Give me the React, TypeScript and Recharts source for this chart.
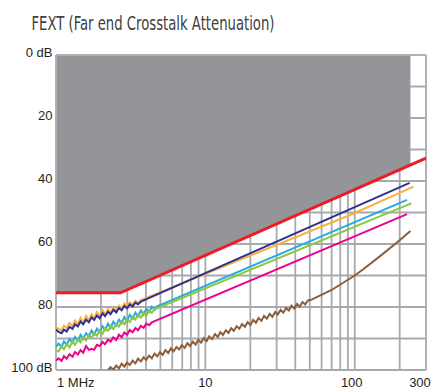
import React from 'react';
import { ComposedChart, Line, Area, XAxis, YAxis, CartesianGrid, ReferenceLine } from 'recharts';

const TITLE = 'FEXT (Far end Crosstalk Attenuation)';

// measurement sample frequencies (MHz) for the noisy low-frequency part
const sampleFreqs = [
  1.0, 1.04, 1.09, 1.13, 1.18, 1.23, 1.29, 1.34, 1.4, 1.46, 1.52, 1.59, 1.66, 1.73, 1.8, 1.88,
  1.96, 2.05, 2.13, 2.23, 2.32, 2.42, 2.53, 2.64, 2.75, 2.87, 2.99, 3.12, 3.26, 3.4, 3.54, 3.7,
  3.86, 4.02, 4.2, 4.38, 4.57, 4.76, 4.97, 5.18, 5.4, 5.64, 5.88, 6.13, 6.4, 6.67, 6.96, 7.26,
  7.58, 7.9, 8.24, 8.6, 8.97, 9.36, 9.76, 10.2, 10.6, 11.1, 11.6, 12.1, 12.6, 13.1, 13.7, 14.3,
  14.9, 15.5, 16.2, 16.9, 17.6, 18.4, 19.2, 20.0, 20.9, 21.8, 22.7, 23.7, 24.7, 25.8, 26.9, 28.1,
  29.3, 30.5, 31.9, 33.2, 34.7, 36.2, 37.7, 39.4, 41.1, 42.8, 44.7, 46.6, 48.6, 50.7,
];

// limit line (red) and the grey forbidden zone
const limitPoints: [number, number][] = [[1, 75.5], [2.7, 75.5], [300, 32.7]];
const zonePoints: [number, number][] = [[1, 75.5], [2.7, 75.5], [236, 34.9]];

// navy
const navyLow = [87.1, 87.9, 88.3, 87.2, 87.8, 86.3, 86.9, 85.5, 86.2, 84.6, 85.5, 84.0, 84.9, 83.3, 84.1, 82.7,
  83.6, 82.0, 82.9, 81.5, 82.3, 80.9, 81.7, 80.3, 81.0, 79.7, 80.4, 79.2, 79.8, 78.6, 79.1, 78.3];
const navyHigh: [number, number][] = [[233, 40.6]];

// orange
const orangeLow = [86.3, 86.9, 87.4, 85.9, 86.8, 85.0, 86.1, 84.3, 85.5, 83.4, 84.9, 82.8, 84.2, 82.3, 83.5, 81.6,
  82.9, 81.0, 82.4, 80.6, 81.8, 80.2, 81.2, 79.6, 80.4, 78.9, 79.9, 78.5, 79.3, 78.0, 78.7, 77.8];
const orangeHigh: [number, number][] = [[94, 50.7], [248, 41.8]];

// cyan
const cyanLow = [92.6, 91.6, 92.7, 90.9, 92.0, 90.2, 91.3, 89.5, 90.7, 88.8, 90.1, 88.3, 89.3, 87.5, 88.7, 86.9,
  88.0, 86.1, 87.3, 85.3, 86.6, 84.7, 85.9, 84.0, 85.1, 83.2, 84.5, 82.5, 83.7, 81.8, 83.0, 81.1,
  82.4, 80.5, 81.6, 79.9, 80.9, 79.8];
const cyanHigh: [number, number][] = [[224, 46.0]];

// green
const greenLow = [93.7, 94.1, 92.5, 93.4, 91.7, 92.8, 91.0, 92.0, 90.3, 91.2, 89.5, 90.6, 88.9, 89.8, 88.3, 89.1,
  87.4, 88.5, 86.7, 87.6, 86.0, 87.0, 85.3, 86.2, 84.6, 85.5, 83.9, 84.8, 83.1, 84.0, 82.5, 83.4,
  81.8, 82.7, 81.0, 81.9, 80.5, 80.4];
const greenHigh: [number, number][] = [[239, 47.1]];

// magenta
const magentaLow = [97.0, 96.3, 97.1, 95.6, 96.4, 95.0, 95.8, 94.3, 95.1, 93.7, 94.5, 92.4, 93.6, 93.3, 93.6, 92.0,
  92.4, 91.1, 91.8, 90.4, 91.0, 89.6, 90.5, 88.8, 89.6, 88.1, 88.8, 87.3, 88.0, 86.7, 87.4, 86.0,
  86.6, 85.3, 85.8, 84.9];
const magentaHigh: [number, number][] = [[224, 50.5]];

// brown (starts at 2.23 MHz = sample index 19)
const brownStart = 19;
const brownLow = [100.0, 99.1, 99.9, 98.6, 99.5, 98.0, 98.9, 97.6, 98.4, 97.0, 97.9, 96.4, 97.3, 96.0, 96.8, 95.4,
  96.3, 94.8, 95.7, 94.3, 95.2, 93.7, 94.6, 93.1, 94.1, 92.7, 93.5, 92.1, 93.0, 91.5, 92.4, 91.0,
  91.9, 90.4, 91.3, 89.9, 90.8, 89.3, 90.2, 88.6, 89.5, 88.0, 88.9, 87.4, 88.2, 86.7, 87.6, 86.1,
  86.9, 85.4, 86.3, 84.8, 85.7, 84.1, 85.0, 83.5, 84.4, 82.8, 83.7, 82.2, 83.1, 81.6, 82.4, 80.9,
  81.8, 80.3, 81.1, 79.6, 80.5, 79.0, 79.9, 78.4, 79.2, 77.9, 77.8];
const brownHigh: [number, number][] = [[70, 74.6], [100, 70.0], [114, 68.0], [150, 63.6], [200, 58.8], [236, 55.9]];

const xTicks = [1, 2, 3, 4, 5, 6, 7, 8, 9, 10, 20, 30, 40, 50, 60, 70, 80, 90, 100, 200, 300];
const xTickLabels = ['1 MHz', '', '', '', '', '', '', '', '', '10', '', '', '', '', '', '', '', '', '100', '', '300'];
const yTicks = [0, 10, 20, 30, 40, 50, 60, 70, 80, 90, 100];
const yTickLabels = ['0 dB', '', '20', '', '40', '', '60', '', '80', '', '100 dB'];

const build = (start: number, low: number[], high: [number, number][]) => [
  ...low.map((v, i) => ({ f: sampleFreqs[start + i], v })),
  ...high.map(([f, v]) => ({ f, v })),
];
const pairs = (p: [number, number][]) => p.map(([f, v]) => ({ f, v }));

const navyData = build(0, navyLow, navyHigh);
const orangeData = build(0, orangeLow, orangeHigh);
const cyanData = build(0, cyanLow, cyanHigh);
const greenData = build(0, greenLow, greenHigh);
const magentaData = build(0, magentaLow, magentaHigh);
const brownData = build(brownStart, brownLow, brownHigh);
const limitData = pairs(limitPoints);
const zoneData = pairs(zonePoints);

const FONT = "'Liberation Sans', Arial, sans-serif";

const XTick = (props: any) => {
  const { x, y, payload } = props;
  const label = xTickLabels[xTicks.indexOf(payload.value)];
  if (!label) return <g />;
  let anchor: 'start' | 'middle' | 'end' = 'middle';
  let dx = 0;
  if (payload.value === 1) { anchor = 'start'; dx = 1; }
  if (payload.value === 100) dx = -3;
  if (payload.value === 300) dx = -6;
  return (
    <text x={x + dx} y={y + 17.3} textAnchor={anchor} fontSize={13} fill="#231f20" fontFamily={FONT}>
      {label}
    </text>
  );
};

const YTick = (props: any) => {
  const { x, y, payload } = props;
  const label = yTickLabels[yTicks.indexOf(payload.value)];
  if (!label) return <g />;
  return (
    <text x={x} y={y + 2.3} textAnchor="end" fontSize={13} fill="#231f20" fontFamily={FONT}>
      {label}
    </text>
  );
};

export default function App() {
  return (
    <div style={{ position: 'absolute', left: 0, top: 0, width: 433, height: 392, background: '#fff' }}>
      <ComposedChart width={433} height={392} margin={{ top: 55, right: 7, bottom: 0, left: 6 }}>
        <CartesianGrid stroke="#a7a9ac" strokeWidth={1.8} />
        <XAxis
          xAxisId={0}
          type="number"
          dataKey="f"
          scale="log"
          domain={[1, 300]}
          allowDataOverflow
          ticks={xTicks}
          interval={0}
          axisLine={false}
          tickLine={false}
          tickSize={0}
          tickMargin={0}
          height={22}
          tick={<XTick />}
        />
        <YAxis
          yAxisId={0}
          type="number"
          dataKey="v"
          domain={[0, 100]}
          reversed
          allowDataOverflow
          ticks={yTicks}
          interval={0}
          axisLine={false}
          tickLine={false}
          tickSize={0}
          tickMargin={3.5}
          width={50}
          tick={<YTick />}
        />
        <Area data={zoneData} dataKey="v" baseValue={0} type="linear" fill="#939598" fillOpacity={1} stroke="none" isAnimationActive={false} />
        <ReferenceLine y={0} stroke="#b3b4b6" strokeWidth={1.5} />
        <ReferenceLine x={1} stroke="#b3b4b6" strokeWidth={1.5} />
        <Line data={orangeData} dataKey="v" type="linear" stroke="#fbb040" strokeWidth={2} dot={false} isAnimationActive={false} />
        <Line data={navyData} dataKey="v" type="linear" stroke="#2e3192" strokeWidth={2} dot={false} isAnimationActive={false} />
        <Line data={cyanData} dataKey="v" type="linear" stroke="#27aae1" strokeWidth={2} dot={false} isAnimationActive={false} />
        <Line data={greenData} dataKey="v" type="linear" stroke="#8dc63f" strokeWidth={2} dot={false} isAnimationActive={false} />
        <Line data={magentaData} dataKey="v" type="linear" stroke="#ec008c" strokeWidth={2} dot={false} isAnimationActive={false} />
        <Line data={brownData} dataKey="v" type="linear" stroke="#8b5e3c" strokeWidth={2} dot={false} isAnimationActive={false} />
        <Line data={limitData} dataKey="v" type="linear" stroke="#ed1c24" strokeWidth={3} dot={false} isAnimationActive={false} />
      </ComposedChart>
      <svg width={433} height={45} style={{ position: 'absolute', left: 0, top: 0, pointerEvents: 'none' }}>
        <text
          x={31.5}
          y={30}
          fontSize={20}
          textLength={243}
          lengthAdjust="spacingAndGlyphs"
          fill="#414042"
          fontFamily="'Liberation Sans Narrow', 'DejaVu Sans Condensed', 'Liberation Sans', sans-serif"
        >
          {TITLE}
        </text>
      </svg>
    </div>
  );
}
